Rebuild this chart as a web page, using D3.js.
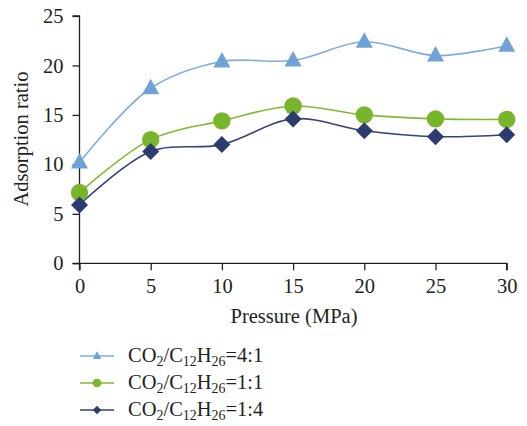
<!DOCTYPE html>
<html><head><meta charset="utf-8">
<script src="https://cdn.jsdelivr.net/npm/d3@7"></script>
<style>body{margin:0;background:#fff}svg{display:block}</style>
</head><body><svg id="c" width="527" height="426"></svg>
<script>
const pressure = [0, 5, 10, 15, 20, 25, 30];
const ratio41 = [10.2, 17.7, 20.4, 20.5, 22.4, 21.0, 22.0];
const ratio11 = [7.15, 12.5, 14.4, 15.9, 15.0, 14.6, 14.55];
const ratio14 = [5.9, 11.3, 12.0, 14.6, 13.4, 12.8, 13.0];
const xTicks = [0, 5, 10, 15, 20, 25, 30];
const yTicks = [0, 5, 10, 15, 20, 25];
const seriesNames = ["4:1", "1:1", "1:4"];

const FONT = '"Liberation Serif", "DejaVu Serif", serif';
const series = [
  {name: seriesNames[0], values: ratio41, color: "#6fa3d8", line: "#7eaedd", shape: "triangle"},
  {name: seriesNames[1], values: ratio11, color: "#79b52a", line: "#80ba30", shape: "circle"},
  {name: seriesNames[2], values: ratio14, color: "#2c3b70", line: "#34437a", shape: "diamond"}
];

const svg = d3.select("#c");
const x = d3.scaleLinear().domain([0, 30]).range([79.5, 506.7]);
const y = d3.scaleLinear().domain([0, 25]).range([263.3, 16]);

const fs = 20.5;
const gx = svg.append("g").attr("transform", `translate(0,${y(0)})`)
  .call(d3.axisBottom(x).tickValues(xTicks).tickSize(7).tickPadding(8).tickFormat(d3.format("d")));
const gy = svg.append("g").attr("transform", `translate(${x(0)},0)`)
  .call(d3.axisLeft(y).tickValues(yTicks).tickSize(7).tickPadding(9).tickFormat(d3.format("d")));
[gx, gy].forEach(g => {
  g.attr("font-family", FONT).attr("font-size", fs);
  g.select(".domain").attr("stroke", "#231f20").attr("stroke-width", 1.3);
  g.selectAll(".tick line").attr("stroke", "#231f20").attr("stroke-width", 1.3);
  g.selectAll("text").attr("fill", "#231f20");
});
gy.select(".domain").attr("d", `M-7,${y(25)}H0V${y(0)}H-7`);
gx.select(".domain").attr("d", `M${x(0)},7V0H${x(30)}V7`);

svg.append("text").attr("x", 294).attr("y", 323).attr("text-anchor", "middle")
  .attr("font-family", FONT).attr("font-size", fs).attr("fill", "#231f20").text("Pressure (MPa)");
svg.append("text").attr("transform", `translate(28,139) rotate(-90)`).attr("text-anchor", "middle")
  .attr("font-family", FONT).attr("font-size", fs).attr("fill", "#231f20").text("Adsorption ratio");

const line = d3.line().x((d, i) => x(pressure[i])).y(d => y(d)).curve(d3.curveCatmullRom.alpha(0.5));

function marker(g, shape, cx, cy, color, s) {
  if (shape === "triangle") {
    g.append("path").attr("d", `M${cx},${cy - 9.5*s}L${cx + 8.5*s},${cy + 6*s}L${cx - 8.5*s},${cy + 6*s}Z`).attr("fill", color);
  } else if (shape === "circle") {
    g.append("circle").attr("cx", cx).attr("cy", cy).attr("r", 8.7*s).attr("fill", color);
  } else {
    g.append("path").attr("d", `M${cx},${cy - 8.5*s}L${cx + 8.5*s},${cy}L${cx},${cy + 8.5*s}L${cx - 8.5*s},${cy}Z`).attr("fill", color);
  }
}

series.forEach(s => {
  svg.append("path").datum(s.values).attr("d", line).attr("fill", "none")
    .attr("stroke", s.line).attr("stroke-width", 1.6);
});
series.forEach(s => {
  const g = svg.append("g");
  s.values.forEach((v, i) => marker(g, s.shape, x(pressure[i]), y(v), s.color, 1));
});

const legY = [356, 383, 410];
series.forEach((s, i) => {
  const g = svg.append("g");
  g.append("line").attr("x1", 80).attr("x2", 114).attr("y1", legY[i]).attr("y2", legY[i])
    .attr("stroke", s.line).attr("stroke-width", 1.6);
  marker(g, s.shape, 97, legY[i], s.color, 0.5);
  const t = g.append("text").attr("x", 128).attr("y", legY[i] + 6)
    .attr("font-family", FONT).attr("font-size", fs).attr("fill", "#231f20");
  t.append("tspan").text("CO");
  t.append("tspan").attr("font-size", fs * 0.68).attr("dy", 4).text("2");
  t.append("tspan").attr("dy", -4).text("/C");
  t.append("tspan").attr("font-size", fs * 0.68).attr("dy", 4).text("12");
  t.append("tspan").attr("dy", -4).text("H");
  t.append("tspan").attr("font-size", fs * 0.68).attr("dy", 4).text("26");
  t.append("tspan").attr("dy", -4).text("=" + s.name);
});
</script></body></html>
